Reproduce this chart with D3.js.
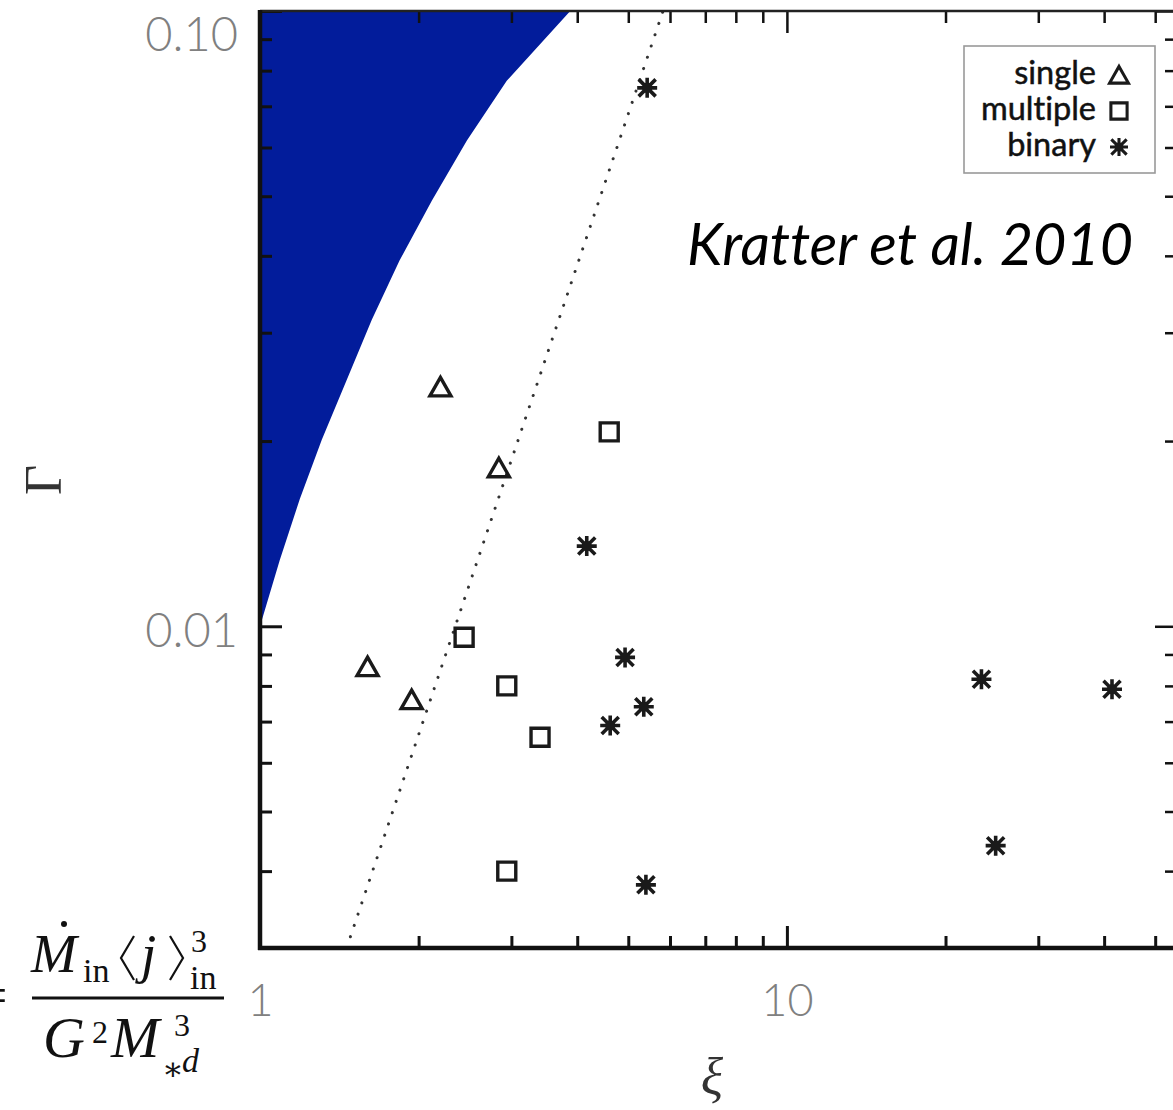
<!DOCTYPE html>
<html>
<head>
<meta charset="utf-8">
<script src="https://cdn.jsdelivr.net/npm/d3@7"></script>
<style>
  html, body { margin: 0; padding: 0; background: #fff; }
  svg { display: block; }
  text { font-variant-ligatures: none; }
</style>
</head>
<body>
<svg id="chart" width="1173" height="1110"></svg>
<script>
// Observed cores: accretion parameter xi vs rotational parameter Gamma (log-log)
const singleXi = [2.20, 2.84, 1.60, 1.94];
const singleGamma = [0.0245, 0.0181, 0.0086, 0.0076];

const multipleXi = [4.60, 2.44, 2.94, 3.40, 2.94];
const multipleGamma = [0.0207, 0.0096, 0.0080, 0.0066, 0.0040];

const binaryXi = [5.43, 4.17, 4.93, 5.35, 4.62, 5.40, 23.4, 41.4, 24.9];
const binaryGamma = [0.0750, 0.0135, 0.0089, 0.0074, 0.0069, 0.0038, 0.0082, 0.0079, 0.0044];

// Edge of the excluded (shaded) region
const limitXi = [1.0, 1.09, 1.19, 1.31, 1.46, 1.63, 1.84, 2.12, 2.47, 2.94, 3.88];
const limitGamma = [0.0100, 0.0128, 0.0161, 0.0201, 0.0251, 0.0315, 0.0393, 0.0492, 0.0616, 0.0770, 0.1000];

// Dotted dividing line
const trendXi = [1.46, 5.82];
const trendGamma = [0.003, 0.1];

const xMajor = [1, 10];
const xTickLabels = ["1", "10"];
const xMinor = [2, 3, 4, 5, 6, 7, 8, 9, 20, 30, 40, 50];
const yMajor = [0.01, 0.1];
const yTickLabels = ["0.01", "0.10"];
const yMinor = [0.004, 0.005, 0.006, 0.007, 0.008, 0.009, 0.02, 0.03, 0.04, 0.05, 0.06, 0.07, 0.08, 0.09];

const legendLabels = ["single", "multiple", "binary"];

const svg = d3.select("#chart");
const pL = 260, pR = 1177, pT = 11, pB = 948;

const x = d3.scaleLog().domain([1, 55]).range([pL, pR]);
const y = d3.scaleLog().domain([0.003, 0.1]).range([pB, pT]);

svg.append("defs").append("clipPath").attr("id", "plotArea")
  .append("rect").attr("x", pL).attr("y", pT)
  .attr("width", pR - pL).attr("height", pB - pT);

const plot = svg.append("g").attr("clip-path", "url(#plotArea)");

// Shaded excluded region: from the limit curve up to the top-left corner
const limitPts = limitXi.map((v, i) => [x(v), y(limitGamma[i])]);
limitPts.push([x(1), y(0.1)]);
plot.append("path")
  .attr("d", d3.line().curve(d3.curveLinear)(limitPts) + "Z")
  .attr("fill", "#021c9b");

// Dotted line
plot.append("path")
  .attr("d", d3.line()(trendXi.map((v, i) => [x(v), y(trendGamma[i])])))
  .attr("fill", "none")
  .attr("stroke", "#333")
  .attr("stroke-width", 3)
  .attr("stroke-linecap", "round")
  .attr("stroke-dasharray", "0.1 11.8");

// Marker shapes
const triPath = "M0,-9.5 L10.5,9 L-10.5,9 Z";
const sqPath = "M-9,-9 H9 V9 H-9 Z";
const starPath = "M-10,0 H10 M0,-10 V10 M-8.5,-8.5 L8.5,8.5 M-8.5,8.5 L8.5,-8.5";
const markColor = "#1a1a1a";

function drawMarks(xs, gs, d, cls, w) {
  plot.selectAll("path." + cls)
    .data(xs.map((v, i) => [v, gs[i]]))
    .join("path")
    .attr("class", cls)
    .attr("transform", p => `translate(${x(p[0])},${y(p[1])})`)
    .attr("d", d)
    .attr("fill", "none")
    .attr("stroke", markColor)
    .attr("stroke-width", w)
    .attr("stroke-linejoin", "miter");
}
drawMarks(singleXi, singleGamma, triPath, "single", 3.4);
drawMarks(multipleXi, multipleGamma, sqPath, "multiple", 3.4);
drawMarks(binaryXi, binaryGamma, starPath, "binary", 3.6);
plot.selectAll("path.binary").each(function () {
  const t = d3.select(this).attr("transform");
  plot.append("circle").attr("transform", t).attr("r", 5).attr("fill", markColor);
});

// Axes: ticks point inward on all four sides
const axes = svg.append("g");
function tickAxis(gen, values, size, tr) {
  const g = axes.append("g").attr("transform", tr)
    .call(gen.tickValues(values).tickSize(size).tickFormat(""));
  g.select(".domain").remove();
  g.selectAll(".tick line").attr("stroke", "#111").attr("stroke-width", 3);
  return g;
}
tickAxis(d3.axisBottom(x), xMinor, -12, `translate(0,${pB})`);
tickAxis(d3.axisBottom(x), xMajor, -22, `translate(0,${pB})`);
tickAxis(d3.axisTop(x), xMinor, -12, `translate(0,${pT})`).selectAll(".tick line").attr("stroke-width", 2.5);
tickAxis(d3.axisTop(x), xMajor, -22, `translate(0,${pT})`).selectAll(".tick line").attr("stroke-width", 2.5);
tickAxis(d3.axisLeft(y), yMinor, -12, `translate(${pL},0)`);
tickAxis(d3.axisLeft(y), yMajor, -22, `translate(${pL},0)`);
tickAxis(d3.axisRight(y), yMinor, -12, `translate(${pR},0)`).selectAll(".tick line").attr("stroke-width", 2.5);
tickAxis(d3.axisRight(y), yMajor, -22, `translate(${pR},0)`).selectAll(".tick line").attr("stroke-width", 2.5);

// Frame
axes.append("line").attr("x1", pL).attr("x2", pR).attr("y1", pT).attr("y2", pT)
  .attr("stroke", "#222").attr("stroke-width", 2.5);
axes.append("line").attr("x1", pL).attr("x2", pL).attr("y1", pT - 1).attr("y2", pB + 2)
  .attr("stroke", "#111").attr("stroke-width", 4.5);
axes.append("line").attr("x1", pL - 2).attr("x2", pR).attr("y1", pB).attr("y2", pB)
  .attr("stroke", "#111").attr("stroke-width", 4.5);
axes.append("line").attr("x1", pR).attr("x2", pR).attr("y1", pT).attr("y2", pB)
  .attr("stroke", "#222").attr("stroke-width", 2.5);

// Tick labels
const labelFont = "Lato, 'DejaVu Sans', sans-serif";
const xLab = svg.append("g").attr("transform", `translate(0,${pB})`)
  .call(d3.axisBottom(x).tickValues(xMajor).tickSize(0).tickPadding(0)
    .tickFormat((d, i) => xTickLabels[i]));
xLab.select(".domain").remove();
xLab.selectAll(".tick text")
  .attr("y", 68).attr("dy", null)
  .attr("font-family", labelFont).attr("font-weight", 300)
  .attr("font-size", 45).attr("fill", "#808080");

const yLab = svg.append("g").attr("transform", `translate(${pL},0)`)
  .call(d3.axisLeft(y).tickValues(yMajor).tickSize(0).tickPadding(22)
    .tickFormat((d, i) => yTickLabels[i]));
yLab.select(".domain").remove();
yLab.selectAll(".tick text")
  .attr("dy", d => (d === 0.1 ? 39 : 20))
  .attr("font-family", labelFont).attr("font-weight", 300)
  .attr("font-size", 47).attr("fill", "#808080");

// Axis titles
svg.append("text")
  .attr("transform", "translate(61,480) rotate(-90)")
  .attr("text-anchor", "middle")
  .attr("font-family", "'Liberation Serif', 'DejaVu Serif', serif")
  .attr("font-size", 52).attr("fill", "#333")
  .text("Γ");
svg.append("text")
  .attr("x", 712).attr("y", 1094)
  .attr("text-anchor", "middle")
  .attr("font-family", "'Liberation Serif', 'DejaVu Serif', serif")
  .attr("font-style", "italic")
  .attr("font-size", 52).attr("fill", "#333")
  .text("ξ");

// Legend
const leg = svg.append("g");
leg.append("rect").attr("x", 964).attr("y", 46).attr("width", 191).attr("height", 127)
  .attr("fill", "#fff").attr("stroke", "#999").attr("stroke-width", 1.6);
const legShapes = [triPath, sqPath, starPath];
legendLabels.forEach((lab, i) => {
  const cy = 75 + i * 36;
  leg.append("text")
    .attr("x", 1096).attr("y", cy + 9)
    .attr("text-anchor", "end")
    .attr("font-family", labelFont)
    .attr("font-size", 32.5).attr("fill", "#111")
    .attr("stroke", "#111").attr("stroke-width", 0.5)
    .text(lab);
  leg.append("path")
    .attr("transform", `translate(1119,${cy}) scale(0.9)`)
    .attr("d", legShapes[i])
    .attr("fill", "none").attr("stroke", markColor).attr("stroke-width", 3.4);
  if (i === 2) leg.append("circle").attr("cx", 1119).attr("cy", cy).attr("r", 4.5).attr("fill", markColor);
});

// Citation
svg.append("text")
  .attr("x", 687).attr("y", 265)
  .attr("textLength", 446).attr("lengthAdjust", "spacingAndGlyphs")
  .attr("font-family", "Lato, 'Open Sans', sans-serif")
  .attr("font-style", "italic")
  .attr("font-size", 58).attr("fill", "#000")
  .text("Kratter et al. 2010");

// Definition of Gamma, set as a fraction
const eq = svg.append("g")
  .attr("font-family", "'Liberation Serif', 'DejaVu Serif', serif")
  .attr("fill", "#111");
function put(txt, px, py, size, italic) {
  eq.append("text").attr("x", px).attr("y", py)
    .attr("font-size", size).attr("font-style", italic ? "italic" : "normal")
    .text(txt);
}
put("=", -22, 1013, 52, false);
put("M", 31, 972, 55, true);
eq.append("circle").attr("cx", 64).attr("cy", 924).attr("r", 3);
put("in", 83, 982, 34, false);
eq.append("path").attr("d", "M134,936 L121,958 L134,980").attr("fill", "none")
  .attr("stroke", "#111").attr("stroke-width", 2.2);
put("j", 141, 972, 55, true);
eq.append("path").attr("d", "M170,936 L183,958 L170,980").attr("fill", "none")
  .attr("stroke", "#111").attr("stroke-width", 2.2);
put("3", 191, 952, 32, false);
put("in", 190, 989, 34, false);
eq.append("line").attr("x1", 32).attr("x2", 224).attr("y1", 998).attr("y2", 998)
  .attr("stroke", "#111").attr("stroke-width", 3);
put("G", 43, 1057, 58, true);
put("2", 92, 1043, 32, false);
put("M", 111, 1057, 58, true);
put("3", 174, 1036, 32, false);
put("∗", 162, 1080, 32, false);
put("d", 182, 1072, 34, true);
</script>
</body>
</html>
